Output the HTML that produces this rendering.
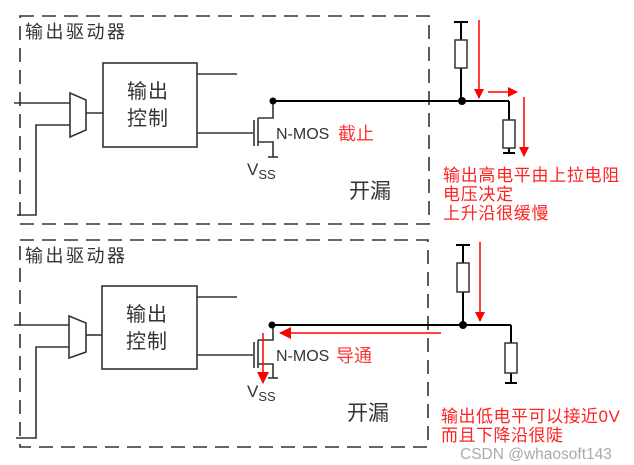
<!DOCTYPE html>
<html><head><meta charset="utf-8"><style>
html,body{margin:0;padding:0;background:#fff;}
svg{display:block;}
text{font-family:"Liberation Sans","Noto Sans CJK SC",sans-serif;}
</style></head><body>
<svg width="634" height="465" viewBox="0 0 634 465" xmlns="http://www.w3.org/2000/svg">
<defs>
<marker id="ar" markerWidth="10" markerHeight="10" refX="9" refY="5" orient="auto" markerUnits="userSpaceOnUse"><path d="M0,0 L10,5 L0,10 z" fill="#f00"/></marker>
<marker id="arb" markerWidth="12" markerHeight="12" refX="11" refY="6" orient="auto" markerUnits="userSpaceOnUse"><path d="M0,0 L12,6 L0,12 z" fill="#f00"/></marker>
</defs>
<g fill="none" stroke="#333" stroke-width="1.6">
<rect x="20" y="16" width="409" height="208" stroke-dasharray="14,8"/>
<rect x="103" y="63" width="94" height="84"/>
<line x1="197" y1="74" x2="237" y2="74"/>
<line x1="197" y1="133" x2="253" y2="133"/>
<path d="M70,93 L86,100 L86,130 L70,137 Z"/>
<line x1="86" y1="113" x2="103" y2="113"/>
<line x1="14" y1="103" x2="70" y2="103"/>
<polyline points="70,125 36,125 36,215 17,215"/>
<line x1="254" y1="120" x2="254" y2="146"/>
<line x1="258" y1="118" x2="258" y2="146"/>
<polyline points="273,101 273,118 258,118"/>
<polyline points="258,142 273,142 273,157"/>
<line x1="268" y1="157" x2="278" y2="157"/>
</g>
<g fill="none" stroke="#000" stroke-width="2">
<line x1="273" y1="101" x2="509" y2="101"/>
<polyline points="461,22 461,101"/>
<line x1="454" y1="22" x2="468" y2="22"/>
<polyline points="509,101 509,153"/>
<line x1="503" y1="153" x2="515" y2="153"/>
</g>
<g fill="#fff" stroke="#333" stroke-width="1.5">
<rect x="455" y="40" width="12" height="28"/>
<rect x="503" y="120" width="12" height="28"/>
</g>
<circle cx="273" cy="101" r="3.5" fill="#000"/>
<circle cx="462" cy="101" r="4" fill="#000"/>
<g stroke="#f00" stroke-width="1.5" fill="none">
<line x1="479" y1="20" x2="479" y2="98" marker-end="url(#ar)"/>
<line x1="488" y1="92" x2="517" y2="92" marker-end="url(#ar)"/>
<line x1="524" y1="97" x2="524" y2="156" marker-end="url(#ar)"/>
</g>
<text x="25" y="38" font-size="18" letter-spacing="2.5" fill="#333">输出驱动器</text>
<text x="127" y="98" font-size="20" letter-spacing="1" fill="#333">输出</text>
<text x="127" y="125" font-size="20" letter-spacing="1" fill="#333">控制</text>
<text x="276" y="139" font-size="16" fill="#333">N-MOS</text>
<text x="338" y="140" font-size="18" fill="#f33">截止</text>
<text x="247" y="175" font-size="17" fill="#333">V<tspan font-size="13" dy="4">SS</tspan></text>
<text x="349" y="198" font-size="21" fill="#333">开漏</text>
<text x="443" y="181" font-size="17" letter-spacing="0.7" fill="#f22">输出高电平由上拉电阻</text>
<text x="443" y="200" font-size="17" letter-spacing="0.7" fill="#f22">电压决定</text>
<text x="443" y="219" font-size="17" letter-spacing="0.7" fill="#f22">上升沿很缓慢</text>

<g fill="none" stroke="#333" stroke-width="1.6">
<rect x="20" y="240" width="408" height="207" stroke-dasharray="14,8"/>
<rect x="102" y="286" width="95" height="83"/>
<line x1="197" y1="297" x2="237" y2="297"/>
<line x1="197" y1="355" x2="253" y2="355"/>
<path d="M69,316 L86,323 L86,352 L69,358 Z"/>
<line x1="86" y1="335" x2="102" y2="335"/>
<line x1="14" y1="325" x2="69" y2="325"/>
<polyline points="69,347 36,347 36,438 16,438"/>
<line x1="254" y1="342" x2="254" y2="368"/>
<line x1="258" y1="340" x2="258" y2="368"/>
<polyline points="273,325 273,340 258,340"/>
<polyline points="258,364 273,364 273,378"/>
<line x1="268" y1="378" x2="278" y2="378"/>
</g>
<g fill="none" stroke="#000" stroke-width="2">
<line x1="273" y1="325" x2="511" y2="325"/>
<polyline points="463,245 463,325"/>
<line x1="456" y1="245" x2="470" y2="245"/>
<polyline points="511,325 511,383"/>
<line x1="505" y1="383" x2="517" y2="383"/>
</g>
<g fill="#fff" stroke="#333" stroke-width="1.5">
<rect x="457" y="263" width="12" height="29"/>
<rect x="505" y="343" width="12" height="30"/>
</g>
<circle cx="272" cy="325" r="3.5" fill="#000"/>
<circle cx="463" cy="325" r="4" fill="#000"/>
<g stroke="#f00" stroke-width="1.5" fill="none">
<line x1="480" y1="242" x2="480" y2="321" marker-end="url(#ar)"/>
<line x1="441" y1="333" x2="280" y2="333" marker-end="url(#arb)"/>
<line x1="263" y1="333" x2="263" y2="383" marker-end="url(#arb)"/>
</g>
<text x="25" y="262" font-size="18" letter-spacing="2.5" fill="#333">输出驱动器</text>
<text x="126" y="321" font-size="20" letter-spacing="1" fill="#333">输出</text>
<text x="126" y="348" font-size="20" letter-spacing="1" fill="#333">控制</text>
<text x="276" y="361" font-size="16" fill="#333">N-MOS</text>
<text x="336" y="362" font-size="18" fill="#f33">导通</text>
<text x="247" y="397" font-size="17" fill="#333">V<tspan font-size="13" dy="4">SS</tspan></text>
<text x="347" y="420" font-size="21" fill="#333">开漏</text>
<text x="441" y="422" font-size="17" letter-spacing="0.5" fill="#f22">输出低电平可以接近0V</text>
<text x="441" y="441" font-size="17" letter-spacing="0.5" fill="#f22">而且下降沿很陡</text>
<text x="460" y="459" font-size="15.5" fill="#aaa">CSDN @whaosoft143</text>
</svg>
</body></html>
